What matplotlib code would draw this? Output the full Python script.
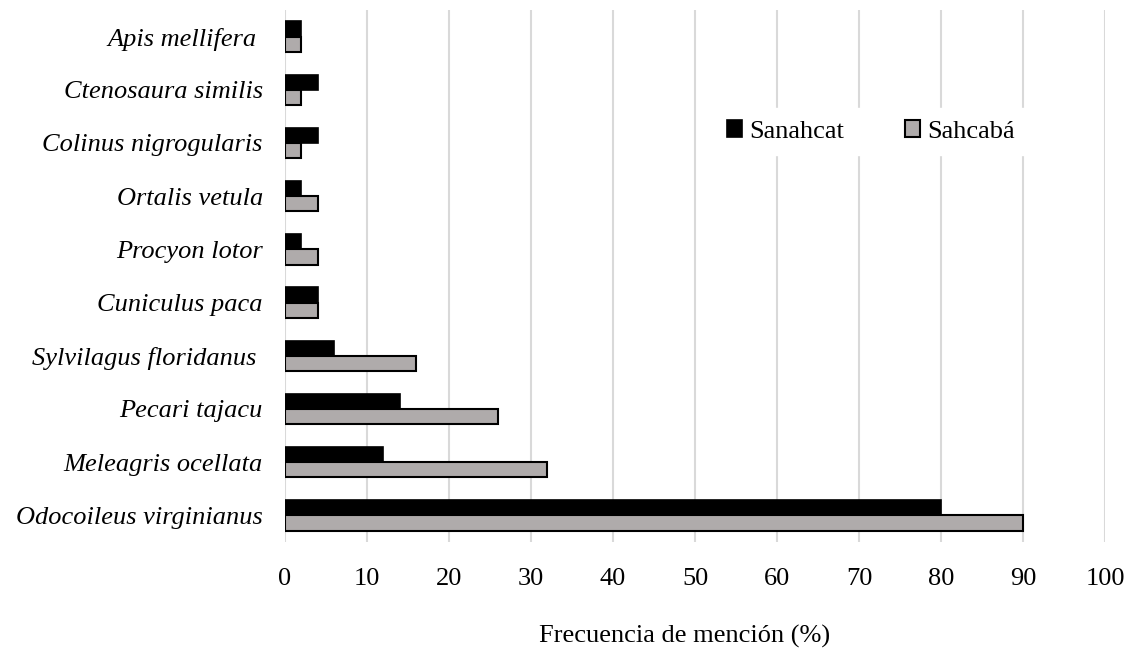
import matplotlib
matplotlib.use("Agg")
import matplotlib.pyplot as plt
import numpy as np

species = ["Odocoileus virginianus", "Meleagris ocellata", "Pecari tajacu",
           "Sylvilagus floridanus ", "Cuniculus paca", "Procyon lotor",
           "Ortalis vetula", "Colinus nigrogularis", "Ctenosaura similis",
           "Apis mellifera "]
sanahcat = [80, 12, 14, 6, 4, 2, 2, 4, 4, 2]
sahcaba = [90, 32, 26, 16, 4, 4, 4, 2, 2, 2]
x_ticks = [0, 10, 20, 30, 40, 50, 60, 70, 80, 90, 100]

plt.rcParams['font.family'] = ['Liberation Serif', 'DejaVu Serif']
FS = 19

fig = plt.figure(figsize=(11.37, 6.5), dpi=100)
ax = fig.add_axes([285 / 1137, 1 - 542 / 650, 820 / 1137, 532 / 650])

y = np.arange(len(species))
h = 0.285
ax.barh(y + h / 2, sanahcat, height=h, color="black", edgecolor="black",
        linewidth=1.2, label="Sanahcat", zorder=3)
ax.barh(y - h / 2, sahcaba, height=h, color="#afabab", edgecolor="black",
        linewidth=1.5, label="Sahcabá", zorder=3)

ax.set_xlim(0, 100)
ax.set_ylim(-0.5, len(species) - 0.5)
ax.set_xticks(x_ticks)
ax.set_xticklabels([str(v) for v in x_ticks], fontsize=FS)
ax.set_yticks(y)
ax.set_yticklabels(species, fontsize=FS, style="italic")
ax.tick_params(length=0)
ax.tick_params(axis="y", pad=16)
ax.tick_params(axis="x", pad=19)
ax.xaxis.grid(True, color="#d9d9d9", linewidth=1.5, zorder=0)
ax.set_axisbelow(True)
for s in ax.spines.values():
    s.set_visible(False)

ax.set_xlabel("Frecuencia de mención (%)", fontsize=FS)
ax.xaxis.set_label_coords(0.487, -0.155)

leg = ax.legend(loc="upper left", bbox_to_anchor=(0.508, 0.84), ncol=2,
                fontsize=FS, frameon=True, framealpha=1, edgecolor="white",
                handlelength=0.6, handleheight=0.6, handletextpad=0.25,
                columnspacing=2.3, borderpad=0.45, fancybox=False)
leg.set_zorder(5)

fig.savefig("out.png", dpi=100)
